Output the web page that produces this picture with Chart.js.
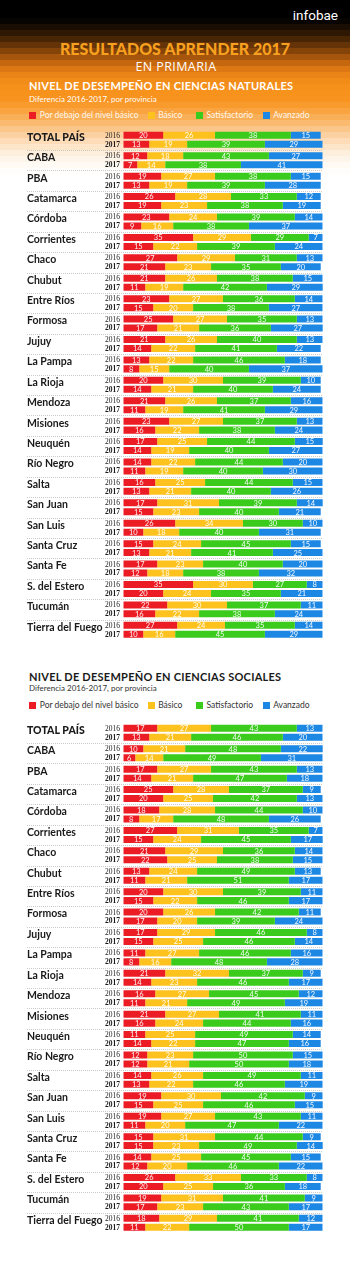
<!DOCTYPE html>
<html>
<head>
<meta charset="utf-8">
<script src="https://cdn.jsdelivr.net/npm/chart.js@4/dist/chart.umd.min.js"></script>
<style>
html,body{margin:0;background:#ffffff;}
body{width:350px;height:1270px;overflow:hidden;font-family:Lato,sans-serif;}
#pagina{position:relative;width:350px;height:1270px;background:#ffffff;}
#cabecera{position:absolute;left:0;top:0;width:350px;height:240px;}
#cabecera div{width:350px;height:6px;}
.abs{position:absolute;white-space:nowrap;}
.marca{right:12px;top:7px;font:13.5px/16px Roboto,sans-serif;color:#fff;}
.titulo{left:0;width:350px;text-align:center;top:38.5px;font:900 16px/20px Lato,sans-serif;color:#f8a01f;}
.subtitulo{left:0;width:352px;text-align:center;top:56.5px;font:12.5px/20px "Open Sans",sans-serif;letter-spacing:0.4px;color:#fff;}
.seccion{left:29px;font:bold 11px/14px Lato,sans-serif;letter-spacing:0.25px;}
.bajada{left:29px;font:8px/10px Lato,sans-serif;}
.item{font:8.5px/10px Lato,sans-serif;}
.cuadro{position:absolute;width:7px;height:7px;}
canvas{position:absolute;left:0;}
</style>
</head>
<body>
<div id="pagina">
<div id="cabecera"></div>
<div class="abs marca">infobae</div>
<div class="abs titulo">RESULTADOS APRENDER 2017</div>
<div class="abs subtitulo">EN PRIMARIA</div>

<div class="abs seccion" style="top:79.3px;color:#fff">NIVEL DE DESEMPEÑO EN CIENCIAS NATURALES</div>
<div class="abs bajada" style="top:94px;color:#fff">Diferencia 2016-2017, por provincia</div>
<div id="leyenda1"></div>
<canvas id="naturales" width="350" height="520" style="top:125px"></canvas>

<div class="abs seccion" style="top:670px;color:#1a1a1a">NIVEL DE DESEMPEÑO EN CIENCIAS SOCIALES</div>
<div class="abs bajada" style="top:683.3px;color:#333">Diferencia 2016-2017, por provincia</div>
<div id="leyenda2"></div>
<canvas id="sociales" width="350" height="520" style="top:718px"></canvas>
</div>

<script>
const provincias = ['TOTAL PAÍS','CABA','PBA','Catamarca','Córdoba','Corrientes','Chaco','Chubut','Entre Ríos','Formosa','Jujuy','La Pampa','La Rioja','Mendoza','Misiones','Neuquén','Río Negro','Salta','San Juan','San Luis','Santa Cruz','Santa Fe','S. del Estero','Tucumán','Tierra del Fuego'];
const anios = ['2016','2017'];
const niveles = ['Por debajo del nivel básico','Básico','Satisfactorio','Avanzado'];
const colores = ['#ec1c24','#fdc21e','#3acb1d','#1d87e4'];

// CIENCIAS NATURALES 2016
const natBajo2016 = [20,12,19,26,23,35,27,21,23,25,21,13,20,21,23,17,14,16,17,26,15,17,35,22,27];
const natBasico2016 = [26,18,27,28,24,29,29,26,27,27,26,22,30,26,27,25,22,25,31,34,24,23,30,30,24];
const natSatis2016 = [38,43,38,33,39,29,31,38,36,35,40,46,39,37,37,44,44,44,39,30,45,40,27,37,35];
const natAvanz2016 = [15,27,15,12,14,7,13,15,14,13,13,18,10,16,13,15,20,15,14,10,15,20,8,11,14];
// CIENCIAS NATURALES 2017
const natBajo2017 = [13,7,13,19,9,15,21,11,15,17,14,8,14,11,16,14,11,13,15,10,13,12,20,16,10];
const natBasico2017 = [19,14,19,23,16,22,23,19,20,21,22,15,21,19,22,19,19,21,23,18,21,18,24,22,16];
const natSatis2017 = [39,38,39,38,38,39,35,42,38,36,41,40,40,41,38,40,40,40,40,40,41,38,35,38,45];
const natAvanz2017 = [29,41,28,19,37,24,20,29,27,27,22,37,24,29,24,27,30,26,21,31,25,32,21,24,29];

// CIENCIAS SOCIALES 2016
const socBajo2016 = [17,10,17,25,18,27,21,13,20,20,17,11,21,16,21,11,12,14,19,19,15,14,26,19,18];
const socBasico2016 = [27,21,27,28,28,31,29,24,30,26,29,27,32,27,27,25,23,26,30,27,31,25,33,31,29];
const socSatis2016 = [43,48,43,37,44,35,36,49,39,42,46,46,37,45,41,49,50,49,42,43,44,45,33,41,41];
const socAvanz2016 = [13,22,13,9,10,7,14,13,11,11,8,16,9,12,11,14,15,11,9,11,9,15,8,9,12];
// CIENCIAS SOCIALES 2017
const socBajo2017 = [13,6,14,20,8,15,22,11,15,17,15,8,14,11,16,14,12,13,15,11,15,12,20,17,11];
const socBasico2017 = [21,14,21,25,17,24,25,21,22,20,25,16,23,21,24,22,21,22,25,20,23,20,25,23,22];
const socSatis2017 = [46,49,47,42,48,45,38,51,46,39,46,48,46,49,44,47,50,46,46,47,49,46,36,43,50];
const socAvanz2017 = [20,31,18,13,26,17,15,17,17,24,14,28,17,19,16,16,18,19,15,22,14,22,18,17,17];


// CABECERA: FRANJAS DE COLOR (negro -> naranja -> blanco)
const franjas = ['#000000','#000000','#000000','#080401','#1a0d02','#2f1803','#472505','#643307','#844409','#a5560c','#c4670f','#dc7713','#ea8416','#f28c19','#f5901b','#f7921c','#f7931e','#f89a2c','#f9a440','#f9af57','#fabb70','#fbc689','#fcd1a1','#fddcb7','#fde5ca','#feeedc','#fef5ea','#fffaf4','#fffdfb','#ffffff'];
document.getElementById('cabecera').innerHTML = franjas.map(c => '<div style="background:' + c + '"></div>').join('');


// LEYENDAS
function crearLeyenda(id, top, colorTexto){
  const posiciones = [29.3, 147.7, 196, 262.7];
  let html = '';
  niveles.forEach((n, i) => {
    html += '<div class="cuadro" style="left:' + posiciones[i] + 'px;top:' + (top - 3.5) + 'px;background:' + colores[i] + '"></div>';
    html += '<div class="abs item" style="left:' + (posiciones[i] + 10.5) + 'px;top:' + (top - 5.3) + 'px;color:' + colorTexto + '">' + n + '</div>';
  });
  document.getElementById(id).innerHTML = html;
}
crearLeyenda('leyenda1', 115, 'rgba(255,255,255,0.92)');
crearLeyenda('leyenda2', 705.7, '#333');


// NUMEROS DENTRO DE LAS BARRAS
const etiquetasValor = {
  id: 'etiquetasValor',
  afterDatasetsDraw(chart){
    const ctx = chart.ctx;
    ctx.save();
    ctx.font = '7.5px Lato';
    ctx.fillStyle = 'rgba(255,255,255,0.95)';
    ctx.textAlign = 'center';
    ctx.textBaseline = 'middle';
    chart.data.datasets.forEach((ds, i) => {
      chart.getDatasetMeta(i).data.forEach((barra, j) => {
        ctx.fillText(ds.data[j], (barra.x + barra.base) / 2, barra.y + 0.5);
      });
    });
    ctx.restore();
  }
};

// PROVINCIAS, AÑOS Y SEPARADORES
const nombresFilas = {
  id: 'nombresFilas',
  beforeDatasetsDraw(chart){
    const ctx = chart.ctx;
    const ejeY = chart.scales.y;
    const barras16 = chart.getDatasetMeta(0).data;
    const barras17 = chart.getDatasetMeta(4).data;
    ctx.save();

    ctx.strokeStyle = 'rgba(160,160,160,0.55)';
    ctx.lineWidth = 1;
    ctx.setLineDash([1, 1]);
    for (let i = 0; i < provincias.length - 1; i++){
      const y = Math.round((ejeY.getPixelForValue(i) + ejeY.getPixelForValue(i + 1)) / 2) + 0.5;
      ctx.beginPath();
      ctx.moveTo(27, y);
      ctx.lineTo(chart.chartArea.right, y);
      ctx.stroke();
    }
    ctx.setLineDash([]);

    ctx.fillStyle = '#1a1a1a';
    ctx.textAlign = 'left';
    ctx.textBaseline = 'middle';
    provincias.forEach((p, i) => {
      ctx.font = (i === 0 ? '900 ' : 'bold ') + '10.5px Lato';
      ctx.fillText(p, 27, ejeY.getPixelForValue(i) - 2.5);
    });

    ctx.textAlign = 'right';
    provincias.forEach((p, i) => {
      ctx.font = '7.5px "Liberation Serif"';
      ctx.fillText(anios[0], 120, barras16[i].y + 0.5);
      ctx.font = 'bold 7.5px "Liberation Serif"';
      ctx.fillText(anios[1], 120, barras17[i].y + 0.5);
    });
    ctx.restore();
  }
};


function crearGrafico(id, series2016, series2017){

  let datasets = [];
  series2016.forEach((serie, i) => {
    datasets.push({ label: niveles[i] + ' ' + anios[0], data: serie, backgroundColor: colores[i], stack: anios[0] });
  });
  series2017.forEach((serie, i) => {
    datasets.push({ label: niveles[i] + ' ' + anios[1], data: serie, backgroundColor: colores[i], stack: anios[1] });
  });

  let ctx = document.getElementById(id).getContext('2d');

  return new Chart(ctx, {
    type: 'bar',
    data: { labels: provincias, datasets: datasets },
    options: {
      indexAxis: 'y',
      responsive: false,
      animation: false,
      layout: { padding: { left: 123.3, right: 27.3, top: 4.6, bottom: 5 } },
      datasets: { bar: { categoryPercentage: 0.88, barPercentage: 0.78, borderWidth: 0 } },
      plugins: { legend: { display: false }, tooltip: { enabled: false } },
      scales: {
        x: { stacked: true, min: 0, max: 100, display: false },
        y: { stacked: true, display: false }
      }
    },
    plugins: [nombresFilas, etiquetasValor]
  });
}

crearGrafico('naturales',
  [natBajo2016, natBasico2016, natSatis2016, natAvanz2016],
  [natBajo2017, natBasico2017, natSatis2017, natAvanz2017]);

crearGrafico('sociales',
  [socBajo2016, socBasico2016, socSatis2016, socAvanz2016],
  [socBajo2017, socBasico2017, socSatis2017, socAvanz2017]);
</script>
</body>
</html>
